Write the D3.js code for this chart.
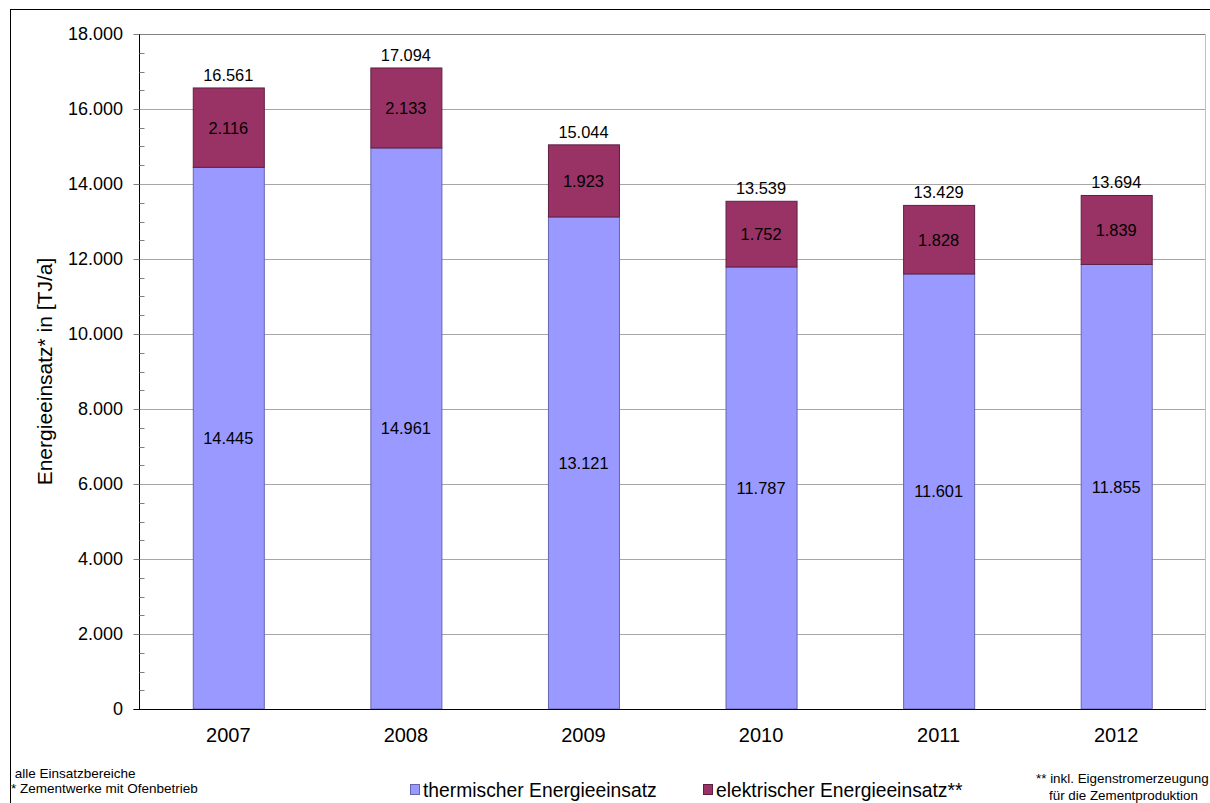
<!DOCTYPE html>
<html>
<head>
<meta charset="utf-8">
<script src="https://cdn.jsdelivr.net/npm/d3@7"></script>
<style>
  html, body { margin: 0; padding: 0; background: #fff; }
  svg { display: block; font-family: "Liberation Sans", Arial, sans-serif; }
</style>
</head>
<body>
<svg id="chart" width="1210" height="803"></svg>
<script>
// Energieeinsatz der Zementwerke, 2007–2012 (TJ/a)
const years = ["2007", "2008", "2009", "2010", "2011", "2012"];
const thermisch = [14445, 14961, 13121, 11787, 11601, 11855];
const elektrisch = [2116, 2133, 1923, 1752, 1828, 1839];
const gesamt = [16561, 17094, 15044, 13539, 13429, 13694];
const yTicks = [0, 2000, 4000, 6000, 8000, 10000, 12000, 14000, 16000, 18000];
const seriesNames = ["thermischer Energieeinsatz", "elektrischer Energieeinsatz**"];
const seriesColors = ["#9999FF", "#993366"];
const seriesStroke = ["#6666b0", "#5e1f40"];

const svg = d3.select("#chart");
const fmt = v => d3.format(",")(v).replace(/,/g, ".");

const plot = { left: 139.5, right: 1205, top: 34, bottom: 709 };

// outer frame
svg.append("rect")
  .attr("x", 10.5).attr("y", 9.5)
  .attr("width", 1300).attr("height", 900)
  .attr("fill", "none").attr("stroke", "#000").attr("stroke-width", 1);

const x = d3.scaleBand().domain(years).range([plot.left, plot.right]).paddingInner(0.6).paddingOuter(0.3);
const y = d3.scaleLinear().domain([0, 18000]).range([plot.bottom, plot.top]);

// gridlines
svg.append("g").selectAll("line").data(yTicks.filter(d => d > 0)).join("line")
  .attr("x1", plot.left).attr("x2", plot.right)
  .attr("y1", d => Math.round(y(d)) + 0.5).attr("y2", d => Math.round(y(d)) + 0.5)
  .attr("stroke", d => d === 18000 ? "#808080" : "#a6a6a6").attr("stroke-width", 1);

// right edge of plot area
svg.append("line")
  .attr("x1", plot.right + 0.5).attr("x2", plot.right + 0.5)
  .attr("y1", plot.top).attr("y2", plot.bottom)
  .attr("stroke", "#c0c0c0");

// stacked data
const stackData = years.map((yr, i) => ({ year: yr, th: thermisch[i], el: elektrisch[i] }));
const stack = d3.stack().keys(["th", "el"])(stackData);

const layers = svg.append("g").selectAll("g").data(stack).join("g")
  .attr("fill", (d, i) => seriesColors[i])
  .attr("stroke", (d, i) => seriesStroke[i]);

layers.selectAll("rect").data(d => d).join("rect")
  .attr("x", d => x(d.data.year) + 0.5)
  .attr("width", x.bandwidth())
  .attr("y", d => y(d[1]))
  .attr("height", d => y(d[0]) - y(d[1]))
  .attr("stroke-width", 1);

// segment labels
const segLabels = svg.append("g").attr("font-size", 16.4).attr("fill", "#000").attr("text-anchor", "middle");
stack.forEach(layer => {
  segLabels.selectAll(null).data(layer).join("text")
    .attr("x", d => x(d.data.year) + x.bandwidth() / 2)
    .attr("y", d => (y(d[0]) + y(d[1])) / 2)
    .attr("dy", "0.36em")
    .text(d => fmt(d[1] - d[0]));
});

// totals above bars
svg.append("g").attr("font-size", 16.4).attr("text-anchor", "middle")
  .selectAll("text").data(years).join("text")
  .attr("x", d => x(d) + x.bandwidth() / 2)
  .attr("y", (d, i) => y(gesamt[i]) - 7)
  .text((d, i) => fmt(gesamt[i]));

// y axis
const yAxis = svg.append("g");
yAxis.append("line")
  .attr("x1", plot.left).attr("x2", plot.left)
  .attr("y1", plot.top).attr("y2", plot.bottom)
  .attr("stroke", "#000");
const minor = d3.range(500, 18000, 500).filter(v => v % 2000 !== 0);
yAxis.selectAll(".minor").data(minor).join("line")
  .attr("x1", plot.left).attr("x2", plot.left + 5)
  .attr("y1", d => Math.round(y(d)) + 0.5).attr("y2", d => Math.round(y(d)) + 0.5)
  .attr("stroke", "#808080");
yAxis.selectAll(".major").data(yTicks).join("line")
  .attr("x1", plot.left - 6).attr("x2", plot.left)
  .attr("y1", d => Math.round(y(d)) + 0.5).attr("y2", d => Math.round(y(d)) + 0.5)
  .attr("stroke", "#808080");
yAxis.selectAll("text").data(yTicks).join("text")
  .attr("x", 123).attr("y", d => y(d)).attr("dy", "0.36em")
  .attr("text-anchor", "end").attr("font-size", 18)
  .text(d => fmt(d));

// x axis line
svg.append("line")
  .attr("x1", plot.left - 6).attr("x2", plot.right + 1)
  .attr("y1", plot.bottom + 0.5).attr("y2", plot.bottom + 0.5)
  .attr("stroke", "#000");
svg.append("g").selectAll("text").data(years).join("text")
  .attr("x", d => x(d) + x.bandwidth() / 2)
  .attr("y", 742)
  .attr("text-anchor", "middle").attr("font-size", 20)
  .text(d => d);

// y axis title
svg.append("text")
  .attr("transform", `translate(52, ${(plot.top + plot.bottom) / 2}) rotate(-90)`)
  .attr("text-anchor", "middle").attr("font-size", 21)
  .text("Energieeinsatz* in [TJ/a]");

// legend
const legendX = [410, 703];
const legend = svg.append("g").selectAll("g").data(seriesNames).join("g")
  .attr("transform", (d, i) => `translate(${legendX[i]}, 784)`);
legend.append("rect")
  .attr("x", 0.5).attr("y", 0.5).attr("width", 9).attr("height", 10)
  .attr("fill", (d, i) => seriesColors[i]).attr("stroke", (d, i) => seriesStroke[i]);
legend.append("text")
  .attr("x", 13).attr("y", 13)
  .attr("font-size", 19.3)
  .text(d => d);

// footnotes
const notes = svg.append("g").attr("font-size", 13.5);
notes.append("text").attr("x", 11).attr("y", 778).attr("xml:space", "preserve").text(" alle Einsatzbereiche");
notes.append("text").attr("x", 11).attr("y", 793).text("* Zementwerke mit Ofenbetrieb");
notes.append("text").attr("x", 1036).attr("y", 783).attr("font-size", 13.4).text("** inkl. Eigenstromerzeugung");
notes.append("text").attr("x", 1049).attr("y", 800).attr("font-size", 13.4).text("für die Zementproduktion");
</script>
</body>
</html>
